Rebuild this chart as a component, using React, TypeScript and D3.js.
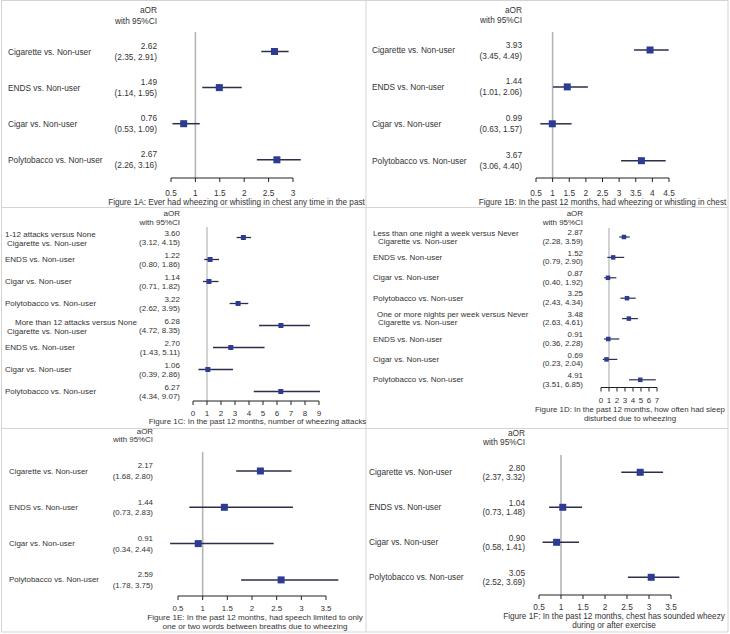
import React from "react";
import * as d3 from "d3";

// ---------- DATA ----------
const rowLabels = ["Cigarette vs. Non-user", "ENDS vs. Non-user", "Cigar vs. Non-user", "Polytobacco vs. Non-user"];

const orA = [2.62, 1.49, 0.76, 2.67];
const loA = [2.35, 1.14, 0.53, 2.26];
const hiA = [2.91, 1.95, 1.09, 3.16];

const orB = [3.93, 1.44, 0.99, 3.67];
const loB = [3.45, 1.01, 0.63, 3.06];
const hiB = [4.49, 2.06, 1.57, 4.40];

const orC = [3.60, 1.22, 1.14, 3.22, 6.28, 2.70, 1.06, 6.27];
const loC = [3.12, 0.80, 0.71, 2.62, 4.72, 1.43, 0.39, 4.34];
const hiC = [4.15, 1.86, 1.82, 3.95, 8.35, 5.11, 2.86, 9.07];

const orD = [2.87, 1.52, 0.87, 3.25, 3.48, 0.91, 0.69, 4.91];
const loD = [2.28, 0.79, 0.40, 2.43, 2.63, 0.36, 0.23, 3.51];
const hiD = [3.59, 2.90, 1.92, 4.34, 4.61, 2.28, 2.04, 6.85];

const orE = [2.17, 1.44, 0.91, 2.59];
const loE = [1.68, 0.73, 0.34, 1.78];
const hiE = [2.80, 2.83, 2.44, 3.75];

const orF = [2.80, 1.04, 0.90, 3.05];
const loF = [2.37, 0.73, 0.58, 2.52];
const hiF = [3.32, 1.48, 1.41, 3.69];

const groupHeadersC = ["1-12 attacks versus None", "More than 12 attacks versus None"];
const groupHeadersD = ["Less than one night a week versus Never", "One or more nights per week versus Never"];

const ticksHalf6 = [0.5, 1, 1.5, 2, 2.5, 3];
const ticksHalf9 = [0.5, 1, 1.5, 2, 2.5, 3, 3.5, 4, 4.5];
const ticksInt9 = [0, 1, 2, 3, 4, 5, 6, 7, 8, 9];
const ticksInt7 = [0, 1, 2, 3, 4, 5, 6, 7];
const ticksHalf7 = [0.5, 1, 1.5, 2, 2.5, 3, 3.5];

const captionA = ["Figure 1A: Ever had wheezing or whistling in chest any time in the past"];
const captionB = ["Figure 1B: In the past 12 months, had wheezing or whistling in chest"];
const captionC = ["Figure 1C: In the past 12 months, number of wheezing attacks"];
const captionD = ["Figure 1D: In the past 12 months, how often had sleep", "disturbed due to wheezing"];
const captionE = ["Figure 1E: In the past 12 months, had speech limited to only", "one or two words between breaths due to wheezing"];
const captionF = ["Figure 1F: In the past 12 months, chest has sounded wheezy", "during or after exercise"];

// ---------- LAYOUT ----------
const FONT = "'Liberation Sans', Arial, Helvetica, sans-serif";
const TEXT = "#333";
const SQ = "#2e3b92";
const CI = "#2b2f4a";
const REF = "#b5b5b5";
const DIV = "#d4d4d4";

type Panel = {
  or: number[]; lo: number[]; hi: number[];
  ticks: number[]; domain: [number, number]; range: [number, number];
  labelX: number; valX: number; rowY0: number; rowStep: number;
  aorY: number; withY: number; refTop: number; axisY: number; tickY: number;
  capX: number; capY: number[]; caption: string[];
  fs: number; capFs: number; sq: number; lw: number; refW: number;
  valUp: number; valDn: number;
  headers?: string[]; headerX?: number[]; cigX?: number; headerUp?: number; cigDn?: number;
};

const panels: Panel[] = [
  {
    or: orA, lo: loA, hi: hiA, ticks: ticksHalf6, domain: [0.5, 3], range: [171, 293],
    labelX: 8, valX: 157, rowY0: 51.5, rowStep: 36.1,
    aorY: 10, withY: 21, refTop: 32, axisY: 178, tickY: 192.7,
    capX: 236.5, capY: [202], caption: captionA,
    fs: 8.3, capFs: 8.2, sq: 7, lw: 1.5, refW: 1.6, valUp: 5.5, valDn: 5.5,
  },
  {
    or: orB, lo: loB, hi: hiB, ticks: ticksHalf9, domain: [0.5, 4.5], range: [536, 669],
    labelX: 372, valX: 522, rowY0: 50, rowStep: 36.9,
    aorY: 10, withY: 19.5, refTop: 32, axisY: 178, tickY: 192.7,
    capX: 602.5, capY: [202], caption: captionB,
    fs: 8.3, capFs: 8.2, sq: 7, lw: 1.5, refW: 1.6, valUp: 5.5, valDn: 5.5,
  },
  {
    or: orC, lo: loC, hi: hiC, ticks: ticksInt9, domain: [0, 9], range: [193, 319],
    labelX: 5, valX: 180, rowY0: 237.5, rowStep: 22,
    aorY: 213.8, withY: 222.2, refTop: 227, axisY: 401, tickY: 413.3,
    capX: 257.5, capY: [421], caption: captionC,
    fs: 8.0, capFs: 7.9, sq: 5, lw: 1.3, refW: 1.2, valUp: 3.7, valDn: 5,
    headers: groupHeadersC, headerX: [5, 15], cigX: 7, headerUp: 3.5, cigDn: 5.5,
  },
  {
    or: orD, lo: loD, hi: hiD, ticks: ticksInt7, domain: [0, 7], range: [601, 657],
    labelX: 373, valX: 583, rowY0: 237, rowStep: 20.4,
    aorY: 213.8, withY: 222.2, refTop: 228, axisY: 387.5, tickY: 400,
    capX: 630, capY: [409.3, 418.7], caption: captionD,
    fs: 7.95, capFs: 7.9, sq: 4.5, lw: 1.2, refW: 1.2, valUp: 4.3, valDn: 4.2,
    headers: groupHeadersD, headerX: [373, 377], cigX: 378, headerUp: 4, cigDn: 4.2,
  },
  {
    or: orE, lo: loE, hi: hiE, ticks: ticksHalf7, domain: [0.5, 3.5], range: [178, 326],
    labelX: 9, valX: 153, rowY0: 471, rowStep: 36.3,
    aorY: 431, withY: 439, refTop: 452, axisY: 596, tickY: 608.3,
    capX: 255, capY: [617.7, 626.2], caption: captionE,
    fs: 7.9, capFs: 8.1, sq: 7, lw: 1.5, refW: 1.6, valUp: 5.3, valDn: 5.5,
  },
  {
    or: orF, lo: loF, hi: hiF, ticks: ticksHalf7, domain: [0.5, 3.5], range: [539, 671],
    labelX: 369, valX: 525, rowY0: 472.3, rowStep: 35,
    aorY: 433, withY: 442, refTop: 455, axisY: 595, tickY: 607.3,
    capX: 614, capY: [616.7, 625.7], caption: captionF,
    fs: 8.3, capFs: 8.2, sq: 7, lw: 1.5, refW: 1.6, valUp: 4.8, valDn: 4.8,
  },
];

function ForestPanel({ p }: { p: Panel }) {
  const x = d3.scaleLinear().domain(p.domain).range(p.range);
  const n = p.or.length;
  const ys = d3.range(n).map((i) => p.rowY0 + i * p.rowStep);
  const fmt = d3.format(".2f");
  const groupSize = p.headers ? n / p.headers.length : n;
  return (
    <g fontFamily={FONT} fill={TEXT}>
      <text x={p.valX} y={p.aorY} textAnchor="end" dominantBaseline="central" fontSize={p.fs}>aOR</text>
      <text x={p.valX} y={p.withY} textAnchor="end" dominantBaseline="central" fontSize={p.fs}>with 95%CI</text>
      <line x1={x(1)} x2={x(1)} y1={p.refTop} y2={p.axisY} stroke={REF} strokeWidth={p.refW} />
      {ys.map((y, i) => {
        const isHead = p.headers && i % groupSize === 0;
        return (
          <g key={i}>
            {isHead ? (
              <>
                <text x={p.headerX![i / groupSize]} y={y - p.headerUp!} dominantBaseline="central" fontSize={p.fs}>{p.headers![i / groupSize]}</text>
                <text x={p.cigX!} y={y + p.cigDn!} dominantBaseline="central" fontSize={p.fs}>{rowLabels[i % 4]}</text>
              </>
            ) : (
              <text x={p.labelX} y={y} dominantBaseline="central" fontSize={p.fs}>{rowLabels[i % 4]}</text>
            )}
            <text x={p.valX} y={y - p.valUp} textAnchor="end" dominantBaseline="central" fontSize={p.fs}>{fmt(p.or[i])}</text>
            <text x={p.valX} y={y + p.valDn} textAnchor="end" dominantBaseline="central" fontSize={p.fs}>{`(${fmt(p.lo[i])}, ${fmt(p.hi[i])})`}</text>
            <line x1={x(p.lo[i])} x2={x(p.hi[i])} y1={y} y2={y} stroke={CI} strokeWidth={p.lw} />
            <rect x={x(p.or[i]) - p.sq / 2} y={y - p.sq / 2} width={p.sq} height={p.sq} fill={SQ} />
          </g>
        );
      })}
      <line x1={x(p.domain[0])} x2={x(p.domain[1])} y1={p.axisY} y2={p.axisY} stroke="#222" strokeWidth={1} />
      {p.ticks.map((t) => (
        <g key={t}>
          <line x1={x(t)} x2={x(t)} y1={p.axisY} y2={p.axisY + 4} stroke="#222" strokeWidth={1} />
          <text x={x(t)} y={p.tickY} textAnchor="middle" dominantBaseline="central" fontSize={p.fs}>{String(t)}</text>
        </g>
      ))}
      {p.caption.map((c, i) => (
        <text key={i} x={p.capX} y={p.capY[i]} textAnchor="middle" dominantBaseline="central" fontSize={p.capFs}>{c}</text>
      ))}
    </g>
  );
}

export default function App() {
  return (
    <svg width={730} height={634} style={{ position: "absolute", left: 0, top: 0, background: "#fff" }}>
      <rect x={0} y={0} width={730} height={634} fill="#fff" />
      <rect x={1.5} y={0.5} width={726.5} height={631.5} fill="none" stroke={DIV} strokeWidth={1} />
      <line x1={366} x2={366} y1={0} y2={632} stroke={DIV} strokeWidth={1} />
      <line x1={1} x2={728} y1={207.5} y2={207.5} stroke={DIV} strokeWidth={1} />
      <line x1={1} x2={728} y1={428.5} y2={428.5} stroke={DIV} strokeWidth={1} />
      {panels.map((p, i) => (
        <ForestPanel key={i} p={p} />
      ))}
    </svg>
  );
}
